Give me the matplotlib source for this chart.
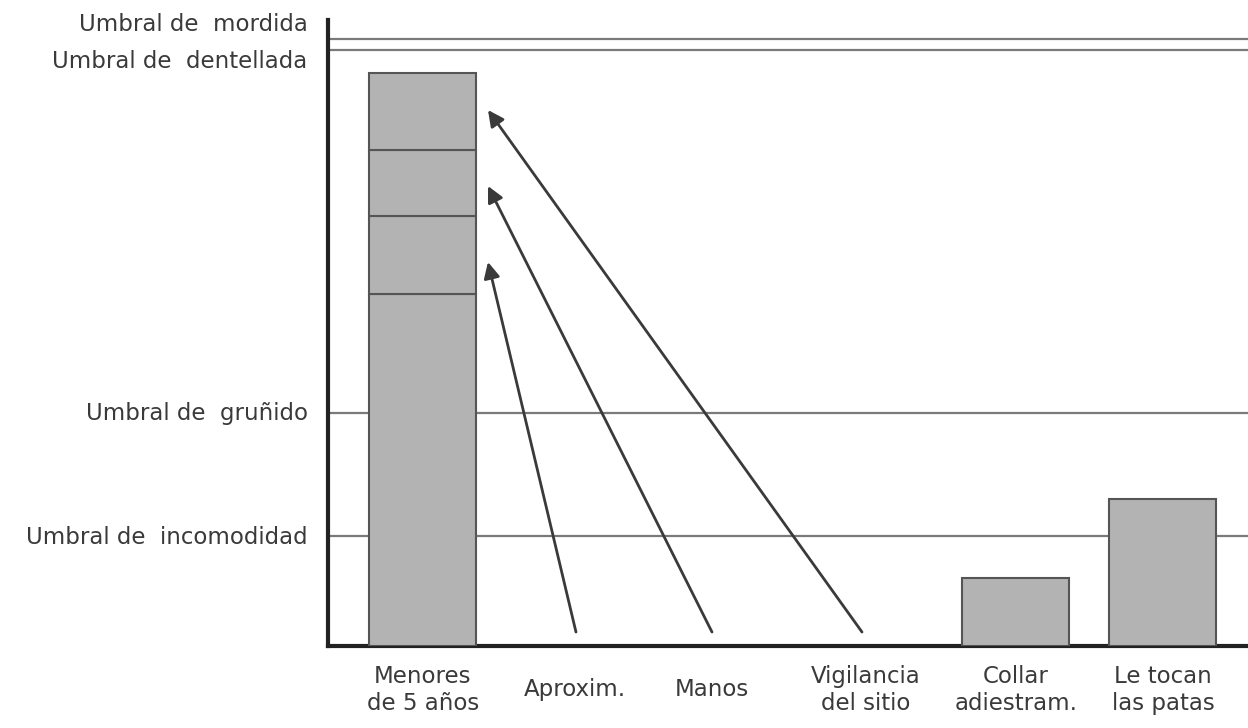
import matplotlib.pyplot as plt
from matplotlib.transforms import blended_transform_factory

# categories along the bottom
categories = ["Menores\nde 5 años", "Aproxim.", "Manos", "Vigilancia\ndel sitio",
              "Collar\nadiestram.", "Le tocan\nlas patas"]
cat_x = [423, 575, 712, 866, 1016, 1163]

# thresholds (arbitrary level units, 0 = baseline)
threshold_names = ["Umbral de  mordida", "Umbral de  dentellada",
                   "Umbral de  gruñido", "Umbral de  incomodidad"]
threshold_vals = [607, 596, 233, 110]

# stacked bar for "Menores de 5 años": base + three triggers
menores_segments = [352, 78, 66, 77]
# single bars
collar_val = 68
patas_val = 147

# arrows: from trigger category to the segment it adds to
arrow_from_x = [576, 712, 862]
arrow_to_level = [384, 460, 536]

fig = plt.figure(figsize=(12.48, 7.28), dpi=100)
ax = fig.add_axes([0.2628, 0.1126, 0.7372, 0.8599])
ax.set_xlim(328, 1248)
ax.set_ylim(0, 626)

bar_c = "#b3b3b3"
edge_c = "#555555"
line_c = "#7a7a7a"
text_c = "#3a3a3a"

for v in threshold_vals:
    ax.axhline(v, color=line_c, lw=1.6, zorder=1)

bw = 107
bottom = 0
for seg in menores_segments:
    ax.bar(cat_x[0], seg, width=bw, bottom=bottom, color=bar_c,
           edgecolor=edge_c, linewidth=1.5, zorder=3)
    bottom += seg
ax.bar(cat_x[4], collar_val, width=bw, color=bar_c, edgecolor=edge_c,
       linewidth=1.5, zorder=3)
ax.bar(cat_x[5], patas_val, width=bw, color=bar_c, edgecolor=edge_c,
       linewidth=1.5, zorder=3)

for x0, lvl in zip(arrow_from_x, arrow_to_level):
    ax.annotate("", xy=(488, lvl), xytext=(x0, 14),
                arrowprops=dict(arrowstyle="-|>", mutation_scale=24,
                                lw=2, color="#3a3a3a", shrinkA=0, shrinkB=0),
                zorder=4)

# threshold labels on the left
label_y = [622, 585, 233, 109]
trans_y = blended_transform_factory(ax.transAxes, ax.transData)
for name, y in zip(threshold_names, label_y):
    ax.text(-0.022, y, name, transform=trans_y, ha="right", va="center",
            fontsize=16.5, color=text_c)

# category labels
trans_x = blended_transform_factory(ax.transData, ax.transAxes)
for name, x in zip(categories, cat_x):
    ax.text(x, -0.07, name, transform=trans_x, ha="center", va="center",
            fontsize=16.5, color=text_c, linespacing=1.2)

ax.set_xticks([])
ax.set_yticks([])
for s in ["top", "right"]:
    ax.spines[s].set_visible(False)
for s in ["left", "bottom"]:
    ax.spines[s].set_linewidth(3)
    ax.spines[s].set_color("#222222")

fig.savefig("out.png", dpi=100)
